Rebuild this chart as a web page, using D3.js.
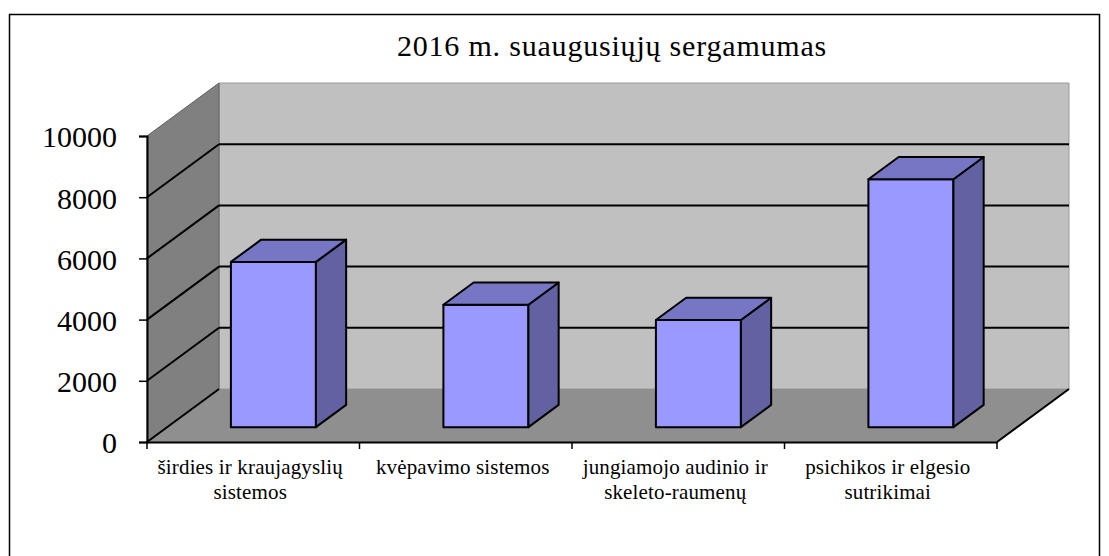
<!DOCTYPE html>
<html>
<head>
<meta charset="utf-8">
<script src="https://cdn.jsdelivr.net/npm/d3@7"></script>
<style>
  body { margin: 0; background: #fff; }
  svg text { font-family: "Times New Roman", "Liberation Serif", "DejaVu Serif", serif !important; fill: #000; }
</style>
</head>
<body>
<div id="vis"></div>
<script>
// data
const categories = ['širdies ir kraujagyslių\nsistemos', 'kvėpavimo sistemos', 'jungiamojo audinio ir\nskeleto-raumenų', 'psichikos ir elgesio\nsutrikimai'];
const values = [5400, 4000, 3500, 8100];
const yTicks = [0, 2000, 4000, 6000, 8000, 10000];
const title = '2016 m. suaugusiųjų sergamumas';

const W = 1109, H = 556;
const serif = '"Times New Roman", "Liberation Serif", serif';
// front plane of the plot
const plotLeft = 147, plotRight = 997, plotBottom = 442, plotTop = 136;
// 3d depth offset of back wall
const depthX = 72, depthY = -53;
// bar sits between these fractions of the depth
const bf0 = 0.28, bf1 = 0.70;

const svg = d3.select('#vis')
    .append('svg')
    .attr('width', W)
    .attr('height', H)
    .attr('font-family', serif);

// outer chart border
svg.append('rect')
    .attr('x', 9.5).attr('y', 14.5)
    .attr('width', 1090).attr('height', 600)
    .attr('fill', 'none')
    .attr('stroke', '#000')
    .attr('stroke-width', 1.5);

const xScale = d3.scaleBand()
    .domain(categories)
    .range([plotLeft, plotRight])
    .paddingInner(0).paddingOuter(0);

const yScale = d3.scaleLinear()
    .domain([0, 10000])
    .range([plotBottom, plotTop]);

const pts = a => a.map(p => p.join(',')).join(' ');
const ymax = yScale(10000), y0 = yScale(0);

// back wall
svg.append('polygon')
    .attr('points', pts([[plotLeft + depthX, ymax + depthY], [plotRight + depthX, ymax + depthY], [plotRight + depthX, y0 + depthY], [plotLeft + depthX, y0 + depthY]]))
    .attr('fill', '#c0c0c0').attr('stroke', '#9a9a9a').attr('stroke-width', 1);

// side wall
svg.append('polygon')
    .attr('points', pts([[plotLeft, ymax], [plotLeft + depthX, ymax + depthY], [plotLeft + depthX, y0 + depthY], [plotLeft, y0]]))
    .attr('fill', '#808080').attr('stroke', '#606060').attr('stroke-width', 1);

// floor
svg.append('polygon')
    .attr('points', pts([[plotLeft, y0], [plotLeft + depthX, y0 + depthY], [plotRight + depthX, y0 + depthY], [plotRight, y0]]))
    .attr('fill', '#8f8f8f');

// gridlines on side wall and back wall
const grid = yTicks.filter(t => t > 0 && t < 10000);
svg.selectAll('.grid-side')
    .data(grid)
    .join('line')
    .attr('class', 'grid-side')
    .attr('x1', plotLeft).attr('y1', d => yScale(d))
    .attr('x2', plotLeft + depthX).attr('y2', d => yScale(d) + depthY)
    .attr('stroke', '#000').attr('stroke-width', 2);

svg.selectAll('.grid-back')
    .data(grid)
    .join('line')
    .attr('class', 'grid-back')
    .attr('x1', plotLeft + depthX).attr('y1', d => yScale(d) + depthY)
    .attr('x2', plotRight + depthX).attr('y2', d => yScale(d) + depthY)
    .attr('stroke', '#000').attr('stroke-width', 2);

// floor edges
svg.append('line')
    .attr('x1', plotLeft).attr('y1', y0).attr('x2', plotLeft + depthX).attr('y2', y0 + depthY)
    .attr('stroke', '#000').attr('stroke-width', 2);
svg.append('line')
    .attr('x1', plotRight).attr('y1', y0).attr('x2', plotRight + depthX).attr('y2', y0 + depthY)
    .attr('stroke', '#000').attr('stroke-width', 2);

// bars
const bw = xScale.bandwidth() * 0.4;
const bars = svg.selectAll('.bar')
    .data(categories.map((c, i) => ({c, v: values[i]})))
    .join('g')
    .attr('class', 'bar');

bars.each(function(d) {
    const g = d3.select(this);
    const x0 = xScale(d.c) + (xScale.bandwidth() - bw) / 2;
    const fx = depthX * bf0, fy = depthY * bf0;
    const bx = depthX * bf1, by = depthY * bf1;
    const yb = yScale(0), yt = yScale(d.v);
    // front
    g.append('polygon')
        .attr('points', pts([[x0 + fx, yt + fy], [x0 + bw + fx, yt + fy], [x0 + bw + fx, yb + fy], [x0 + fx, yb + fy]]))
        .attr('fill', '#9999ff');
    // right side
    g.append('polygon')
        .attr('points', pts([[x0 + bw + fx, yt + fy], [x0 + bw + bx, yt + by], [x0 + bw + bx, yb + by], [x0 + bw + fx, yb + fy]]))
        .attr('fill', '#6262a2');
    // top
    g.append('polygon')
        .attr('points', pts([[x0 + fx, yt + fy], [x0 + bx, yt + by], [x0 + bw + bx, yt + by], [x0 + bw + fx, yt + fy]]))
        .attr('fill', '#7676c4');
    g.selectAll('polygon')
        .attr('stroke', '#000').attr('stroke-width', 2).attr('stroke-linejoin', 'round');
});

// axes
const yAxis = d3.axisLeft(yScale).tickValues(yTicks).tickSize(8).tickFormat(d3.format('d'));
const yG = svg.append('g')
    .attr('transform', `translate(${plotLeft},0)`)
    .call(yAxis)
    .attr('font-family', serif);
yG.select('.domain').attr('stroke', '#000').attr('stroke-width', 2);
yG.selectAll('.tick line').attr('stroke', '#000').attr('stroke-width', 1.5);
yG.selectAll('.tick text')
    .attr('x', -30)
    .attr('dy', '0.36em')
    .attr('font-size', 30)
    .attr('fill', '#000');

const xAxis = d3.axisBottom(xScale).tickSize(0).tickFormat('');
const xG = svg.append('g')
    .attr('transform', `translate(0,${plotBottom})`)
    .call(xAxis);
xG.select('.domain').attr('stroke', '#000').attr('stroke-width', 2);

// category boundary ticks
const bounds = categories.map(c => xScale(c)).concat([plotRight]);
svg.selectAll('.xtick')
    .data(bounds)
    .join('line')
    .attr('class', 'xtick')
    .attr('x1', d => d).attr('x2', d => d)
    .attr('y1', plotBottom).attr('y2', plotBottom + 7)
    .attr('stroke', '#000').attr('stroke-width', 1.5);

// category labels
svg.selectAll('.cat')
    .data(categories)
    .join('text')
    .attr('class', 'cat')
    .attr('text-anchor', 'middle')
    .attr('font-size', 21)
    .attr('letter-spacing', 0.15)
    .each(function(c) {
        const t = d3.select(this);
        c.split('\n').forEach((line, i) => {
            t.append('tspan')
                .attr('x', xScale(c) + xScale.bandwidth() / 2 - 3)
                .attr('y', 474 + i * 25)
                .text(line);
        });
    });

// title
svg.append('text')
    .attr('x', 612)
    .attr('y', 56)
    .attr('text-anchor', 'middle')
    .attr('font-size', 30)
    .attr('letter-spacing', 0.8)
    .text(title);
</script>
</body>
</html>
